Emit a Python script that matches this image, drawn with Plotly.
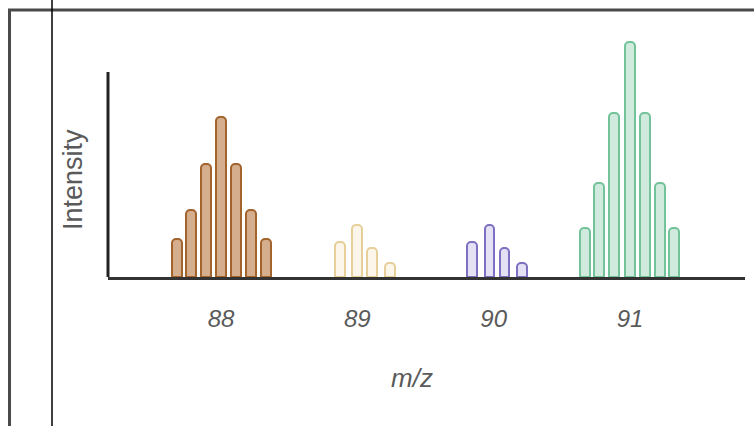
import plotly.graph_objects as go

# ---- data ----
tick_vals = [88, 89, 90, 91]
tick_text = ["88", "89", "90", "91"]

mz_88 = [87.68, 87.78, 87.89, 88.00, 88.11, 88.22, 88.33]
int_88 = [16, 28.5, 48, 68, 48, 28.5, 16]

mz_89 = [88.87, 89.00, 89.11, 89.24]
int_89 = [15, 22, 12.5, 6]

mz_90 = [89.84, 89.97, 90.08, 90.21]
int_90 = [15, 22, 12.5, 6]

mz_91 = [90.67, 90.77, 90.88, 91.00, 91.11, 91.22, 91.32]
int_91 = [21, 40, 70, 100, 70, 40, 21]

series = [
    (mz_88, int_88, "#a3632d", "rgba(185,120,65,0.6)"),
    (mz_89, int_89, "#e6cf98", "rgba(245,232,200,0.40)"),
    (mz_90, int_90, "#7d70c2", "rgba(180,170,225,0.35)"),
    (mz_91, int_91, "#72c29a", "rgba(150,210,180,0.45)"),
]

# ---- layout constants (pixels) ----
W, H = 754, 426
L, R, T, B = 108, 9, 36, 149
plot_w = W - L - R
plot_h = H - T - B
px_per_unit = 136.33
x_lo = 88 - (221 - L) / px_per_unit
x_hi = x_lo + plot_w / px_per_unit
y_px_per_unit = 2.35
y_hi = plot_h / y_px_per_unit
y_axis_top = (277 - 72) / y_px_per_unit


def px_x(p):
    return (p - L) / plot_w


def px_y(p):
    return (H - B - p) / plot_h


fig = go.Figure()
for xs, ys, line_c, fill_c in series:
    fig.add_trace(go.Bar(
        x=xs, y=ys, width=0.072,
        marker=dict(color=fill_c, line=dict(color=line_c, width=2), cornerradius=4),
        showlegend=False, hoverinfo="skip",
    ))

shapes = [
    # y-axis line (shorter than plot area)
    dict(type="line", xref="paper", yref="y", x0=0, x1=0, y0=0, y1=y_axis_top,
         line=dict(color="#222222", width=3)),
    # outer frame: left and top edges
    dict(type="line", xref="paper", yref="paper", x0=px_x(9.5), x1=px_x(9.5),
         y0=px_y(10), y1=px_y(440), line=dict(color="#4a4a4a", width=3)),
    dict(type="line", xref="paper", yref="paper", x0=px_x(8), x1=px_x(770),
         y0=px_y(10), y1=px_y(10), line=dict(color="#4a4a4a", width=3)),
    # thin vertical line
    dict(type="line", xref="paper", yref="paper", x0=px_x(52), x1=px_x(52),
         y0=px_y(-10), y1=px_y(440), line=dict(color="#000000", width=1.5)),
]

annotations = [
    dict(text="m/z", xref="paper", yref="paper", x=px_x(412), y=px_y(378),
         showarrow=False, xanchor="center", yanchor="middle",
         font=dict(family="Liberation Sans", size=26, color="#5a5a5a", style="italic")),
    dict(text="Intensity", xref="paper", yref="paper", x=px_x(73), y=px_y(180),
         textangle=-90, showarrow=False, xanchor="center", yanchor="middle",
         font=dict(family="Liberation Sans", size=27, color="#5a5a5a")),
]

fig.update_layout(
    width=W, height=H,
    margin=dict(l=L, r=R, t=T, b=B, pad=0),
    paper_bgcolor="white", plot_bgcolor="white",
    barmode="overlay", bargap=0,
    shapes=shapes, annotations=annotations,
    xaxis=dict(range=[x_lo, x_hi], tickvals=tick_vals, ticktext=tick_text,
               showgrid=False, zeroline=False, showline=True, linecolor="#333333",
               linewidth=3, ticks="", ticklabelstandoff=18,
               tickfont=dict(family="Liberation Sans", size=24, color="#5a5a5a", style="italic")),
    yaxis=dict(range=[0, y_hi], showgrid=False, zeroline=False, showline=False,
               showticklabels=False, ticks=""),
)

fig.write_html("out.html", config={"displayModeBar": False},
               post_script="document.body.style.margin='0';")
